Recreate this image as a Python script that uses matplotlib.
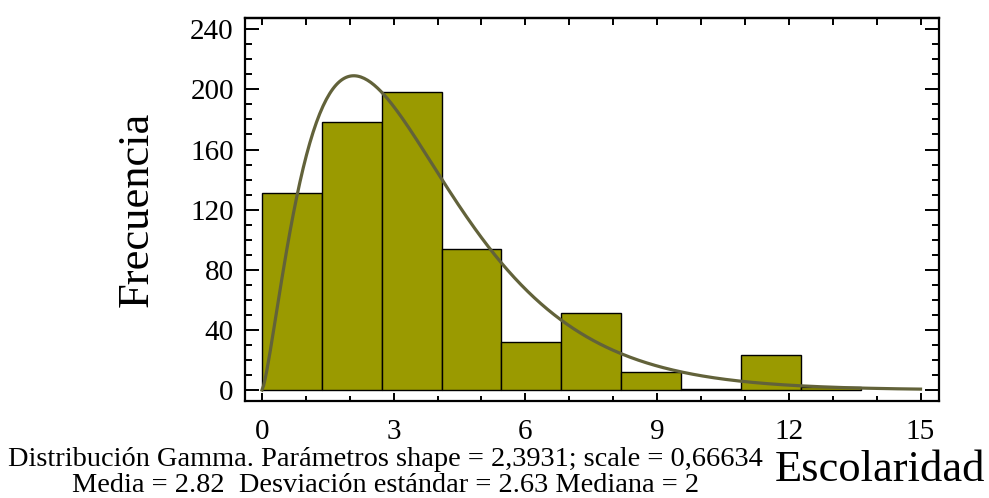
import math
import numpy as np
import matplotlib
matplotlib.use("Agg")
import matplotlib.pyplot as plt
from matplotlib.ticker import MultipleLocator

# Frequency table of years of schooling
bin_start = 0.0
bin_stop = 15.0
n_bins = 11
counts = [131, 178, 198, 94, 32, 51, 12, 1, 23, 2]

# Fitted gamma distribution (shape, rate as reported by the fit)
gamma_shape = 2.3931
gamma_rate = 0.66634

x_ticks = [0, 3, 6, 9, 12, 15]
y_ticks = [0, 40, 80, 120, 160, 200, 240]

bar_color = "#9a9a00"
curve_color = "#62623a"
font = "Liberation Serif"

plt.rcParams["font.family"] = font

edges = np.linspace(bin_start, bin_stop, n_bins + 1)
width = edges[1] - edges[0]
lefts = edges[:len(counts)]

fig = plt.figure(figsize=(9.89, 4.98), dpi=100)
ax = fig.add_axes([0.2477, 0.1948, 0.9494 - 0.2477, 0.9645 - 0.1948])

ax.bar(lefts, counts, width=width, align="edge", color=bar_color,
       edgecolor="black", linewidth=1.0, zorder=2)

# Gamma density scaled to the histogram
xs = np.linspace(bin_start, bin_stop, 400)
pdf = (gamma_rate ** gamma_shape) * xs ** (gamma_shape - 1) * np.exp(-gamma_rate * xs) / math.gamma(gamma_shape)
ax.plot(xs, pdf * sum(counts) * width, color=curve_color, linewidth=2.3, zorder=3)

ax.set_xlim(-0.387, 15.42)
ax.set_ylim(-7.3, 247.7)

ax.set_xticks(x_ticks)
ax.xaxis.set_minor_locator(MultipleLocator(1))
ax.set_yticks(y_ticks)
ax.yaxis.set_minor_locator(MultipleLocator(10))

ax.tick_params(axis="y", which="both", direction="in", left=True, right=True,
               width=1.4, labelsize=21, pad=8)
ax.tick_params(axis="y", which="major", length=10)
ax.tick_params(axis="y", which="minor", length=5)
ax.tick_params(axis="x", which="both", direction="in", bottom=True, top=False,
               width=1.4, labelsize=21, pad=13)
ax.tick_params(axis="x", which="major", length=6)
ax.tick_params(axis="x", which="minor", length=3.6)

top = ax.secondary_xaxis("top")
top.xaxis.set_major_locator(MultipleLocator(1))
top.tick_params(direction="in", length=5, width=1.4, labelsize=0, labeltop=False)
top.spines["top"].set_linewidth(1.6)

for s in ax.spines.values():
    s.set_linewidth(1.6)

ax.set_ylabel("Frecuencia", fontsize=32, labelpad=24)

fig.text(0.7836, 0.034, "Escolaridad", fontsize=32, ha="left", va="baseline")
fig.text(0.390, 0.064, "Distribución Gamma. Parámetros shape = 2,3931; scale = 0,66634",
         fontsize=20.4, ha="center", va="baseline")
fig.text(0.390, 0.012, "Media = 2.82  Desviación estándar = 2.63 Mediana = 2",
         fontsize=20.4, ha="center", va="baseline")

fig.savefig("out.png", dpi=100)
